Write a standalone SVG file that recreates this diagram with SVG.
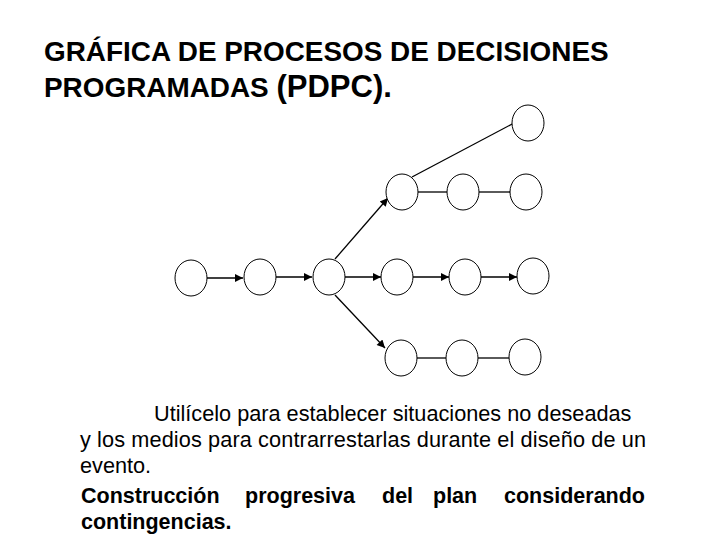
<svg xmlns="http://www.w3.org/2000/svg" width="720" height="540" viewBox="0 0 720 540">
<style>
.n{fill:#fff;stroke:#000;stroke-width:1}
.c{stroke:#000;stroke-width:1.3;fill:none}
.t{font-family:"Liberation Sans",Arial,sans-serif;fill:#000}
.b{font-size:21.7px}
.bb{font-size:21.5px;font-weight:bold}
</style>
<defs>
<marker id="ah" viewBox="0 0 10 10" refX="10" refY="5" markerWidth="9" markerHeight="8" markerUnits="userSpaceOnUse" orient="auto">
<path d="M0,0 L10,5 L0,10 z" fill="#000"/>
</marker>
<marker id="ah2" viewBox="0 0 10 10" refX="10" refY="5" markerWidth="10" markerHeight="8" markerUnits="userSpaceOnUse" orient="auto">
<path d="M0,0 L10,5 L0,10 z" fill="#000"/>
</marker>
</defs>
<rect width="720" height="540" fill="#fff"/>
<text class="t" x="44" y="61" font-size="27.9" font-weight="bold">GRÁFICA DE PROCESOS DE DECISIONES</text>
<text class="t" x="44" y="97" font-size="27.9" font-weight="bold">PROGRAMADAS <tspan font-size="31">(PDPC).</tspan></text>
<g id="connectors">
<line class="c" x1="412" y1="177" x2="514" y2="123"/>
<line class="c" x1="417" y1="192" x2="447" y2="192"/>
<line class="c" x1="479" y1="192" x2="510" y2="192"/>
<line class="c" x1="207" y1="278" x2="243" y2="278" marker-end="url(#ah)"/>
<line class="c" x1="276" y1="277" x2="312" y2="277" marker-end="url(#ah)"/>
<line class="c" x1="345" y1="277" x2="381" y2="277" marker-end="url(#ah)"/>
<line class="c" x1="413" y1="277" x2="449" y2="277" marker-end="url(#ah)"/>
<line class="c" x1="481" y1="277" x2="517" y2="277" stroke-width="2.2" marker-end="url(#ah2)"/>
<line class="c" x1="335" y1="259" x2="388" y2="198" stroke-width="1.8" marker-end="url(#ah2)"/>
<line class="c" x1="335" y1="295" x2="385" y2="348" stroke-width="1.8" marker-end="url(#ah2)"/>
<line class="c" x1="417" y1="358" x2="446" y2="358"/>
<line class="c" x1="478" y1="358" x2="509" y2="358"/>
</g>
<g id="n-top"><ellipse class="n" cx="528" cy="123" rx="16" ry="18"/></g>
<g id="n-a1"><ellipse class="n" cx="402" cy="192" rx="16" ry="18"/></g>
<g id="n-a2"><ellipse class="n" cx="463" cy="192" rx="16" ry="18"/></g>
<g id="n-a3"><ellipse class="n" cx="526" cy="192" rx="16" ry="18"/></g>
<g id="n-m1"><ellipse class="n" cx="191" cy="278" rx="16" ry="18"/></g>
<g id="n-m2"><ellipse class="n" cx="260" cy="277" rx="16" ry="18"/></g>
<g id="n-m3"><ellipse class="n" cx="329" cy="277" rx="16" ry="18"/></g>
<g id="n-m4"><ellipse class="n" cx="397" cy="277" rx="16" ry="18"/></g>
<g id="n-m5"><ellipse class="n" cx="465" cy="277" rx="16" ry="18"/></g>
<g id="n-m6"><ellipse class="n" cx="533" cy="276" rx="16" ry="18"/></g>
<g id="n-b1"><ellipse class="n" cx="401" cy="358" rx="16" ry="18"/></g>
<g id="n-b2"><ellipse class="n" cx="462" cy="358" rx="16" ry="18"/></g>
<g id="n-b3"><ellipse class="n" cx="525" cy="357" rx="16" ry="18"/></g>
<text class="t b" x="154" y="421">Utilícelo para establecer situaciones no deseadas</text>
<text class="t b" x="80" y="447" textLength="566" lengthAdjust="spacing">y los medios para contrarrestarlas durante el diseño de un</text>
<text class="t b" x="80" y="473">evento.</text>
<text class="t bb" x="81" y="503">Construcción</text>
<text class="t bb" x="245" y="503">progresiva</text>
<text class="t bb" x="382" y="503">del</text>
<text class="t bb" x="433" y="503">plan</text>
<text class="t bb" x="645" y="503" text-anchor="end">considerando</text>
<text class="t bb" x="81" y="529">contingencias.</text>
</svg>
